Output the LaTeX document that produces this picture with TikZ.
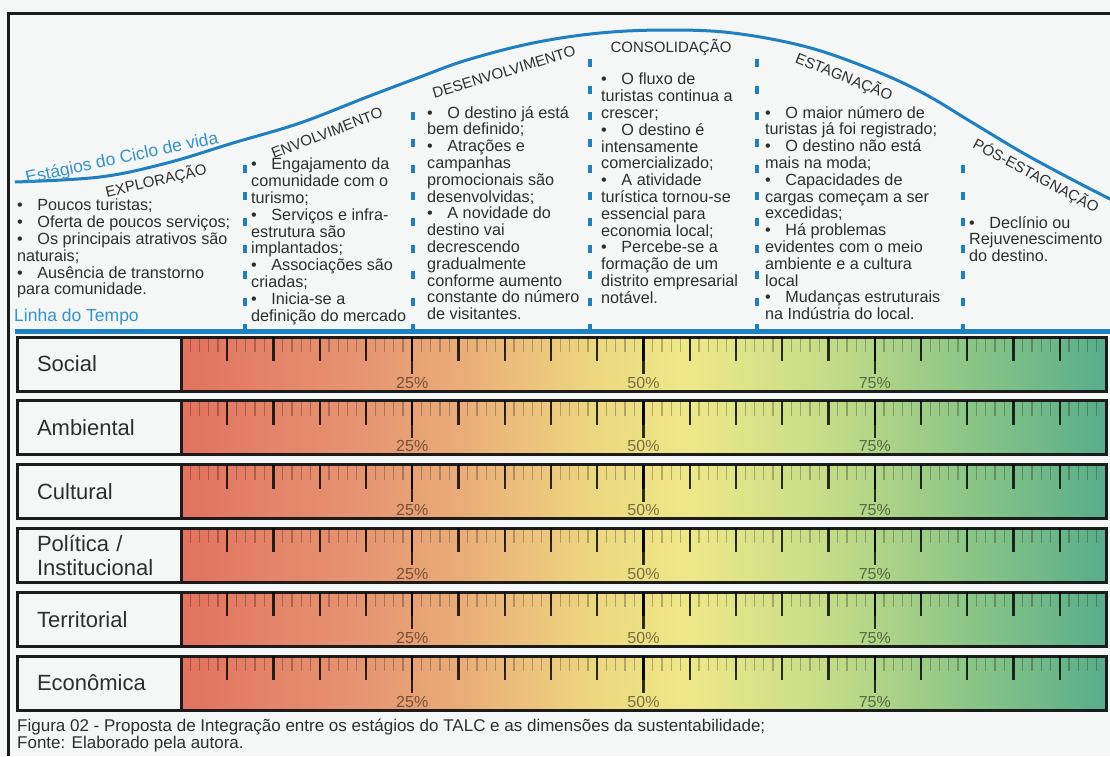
\documentclass[tikz,border=0pt]{standalone}
\usepackage{fontspec}
\setmainfont{Liberation Sans}
\usetikzlibrary{positioning}

\definecolor{paper}{HTML}{F5F6F6}
\definecolor{inkgray}{HTML}{2E2E2E}
\definecolor{rowedge}{HTML}{1C1C1C}
\definecolor{talcblue}{HTML}{1E7FC3}
\definecolor{titleblue}{HTML}{3593CC}
\definecolor{tA}{HTML}{E2725F}
\definecolor{tB}{HTML}{E69672}
\definecolor{tC}{HTML}{EAAC78}
\definecolor{tD}{HTML}{EDD880}
\definecolor{tE}{HTML}{EEE888}
\definecolor{tF}{HTML}{C4DC88}
\definecolor{tG}{HTML}{8CC686}
\definecolor{tH}{HTML}{58AD8B}
\pgfdeclarehorizontalshading{talcgrad}{100bp}{color(0bp)=(tA); color(25bp)=(tA); color(35bp)=(tB); color(40bp)=(tC); color(47.5bp)=(tD); color(52.5bp)=(tE); color(60bp)=(tF); color(67.5bp)=(tG); color(75bp)=(tH); color(100bp)=(tH)}

\tikzstyle{frameline} = [draw=rowedge, line width=3pt]
\tikzstyle{lifecurve} = [draw=talcblue, line width=3pt]
\tikzstyle{timeline} = [draw=talcblue, line width=5pt]
\tikzstyle{stagesep} = [draw=talcblue, line width=4pt, dash pattern=on 8pt off 18.5pt]
\tikzstyle{bluetitle} = [text=titleblue, font=\fontsize{17.5}{18}\selectfont, inner sep=0pt]
\tikzstyle{stagehead} = [text=inkgray, font=\fontsize{15}{16}\selectfont, inner sep=0pt]
\tikzstyle{stagetext} = [text=inkgray, font=\fontsize{16.2}{16.8}\selectfont, align=left, anchor=north west, inner sep=0pt]
\tikzstyle{dimlabel} = [rectangle, draw=rowedge, line width=3pt, fill=paper, minimum width=164pt, minimum height=54pt, text width=124pt, inner xsep=20pt, inner ysep=0pt, align=left, outer sep=0pt, text=inkgray, font=\fontsize{22}{24}\selectfont]
\tikzstyle{dimbar} = [rectangle, draw=rowedge, line width=3pt, shade, shading=talcgrad, minimum width=925pt, minimum height=54pt, outer sep=0pt]
\tikzstyle{minortick} = [draw=black, draw opacity=0.25, line width=1.4pt]
\tikzstyle{majortick} = [draw=black, draw opacity=0.8, line width=2.3pt]
\tikzstyle{pctlabel} = [text=black, text opacity=0.5, font=\fontsize{16}{17}\selectfont, inner sep=0pt, anchor=base]
\tikzstyle{caption} = [text=inkgray, font=\fontsize{17}{17}\selectfont, align=left, anchor=north west, inner sep=0pt]

\newcommand{\stagebullet}{\textbullet\hspace{0.9em}}

\begin{document}
\begin{tikzpicture}[x=1pt, y=-1pt]
	\useasboundingbox (0,0) rectangle (1110,756);
	\fill[paper] (0,0) rectangle (1110,756);
	\draw[frameline] (8,756) -- (8,13) -- (1110,13);

	% curva do ciclo de vida
	\draw[lifecurve] plot[smooth, tension=0.6] coordinates {(15,182) (100,177) (167,163) (233,143) (300,123) (367,97) (420,77) (467,60) (533,43) (600,33) (667,30) (733,33) (807,47) (873,70) (923,93) (973,123) (1023,153) (1073,180) (1112,200)};
	\node (lifeTitle) [bluetitle, rotate=12] at (122,159) {Estágios do Ciclo de vida};

	% linha do tempo e separadores
	\coordinate (timeStart) at (15,331);
	\coordinate (timeEnd) at (1110,331);
	\draw[timeline] (timeStart) -- (timeEnd);
	\node (timeTitle) [bluetitle, anchor=west] at (14,317) {Linha do Tempo};
	\coordinate (sepEnvBot) at (245,332);   \coordinate (sepEnvTop) at (245,160);
	\coordinate (sepDesBot) at (413,332);   \coordinate (sepDesTop) at (413,96);
	\coordinate (sepConBot) at (590,332);   \coordinate (sepConTop) at (590,42);
	\coordinate (sepEstBot) at (757,332);   \coordinate (sepEstTop) at (757,42);
	\coordinate (sepPosBot) at (963,332);   \coordinate (sepPosTop) at (963,150);
	\draw[stagesep] (sepEnvBot) -- (sepEnvTop);
	\draw[stagesep] (sepDesBot) -- (sepDesTop);
	\draw[stagesep] (sepConBot) -- (sepConTop);
	\draw[stagesep] (sepEstBot) -- (sepEstTop);
	\draw[stagesep] (sepPosBot) -- (sepPosTop);

	% estagios
	\node (hdExplor) [stagehead, rotate=13] at (156,181) {EXPLORAÇÃO};
	\node (hdEnvolv) [stagehead, rotate=21] at (327,133) {ENVOLVIMENTO};
	\node (hdDesenv) [stagehead, rotate=17] at (504,72) {DESENVOLVIMENTO};
	\node (hdConsol) [stagehead] at (671,47) {CONSOLIDAÇÃO};
	\node (hdEstag) [stagehead, rotate=-22] at (844,77) {ESTAGNAÇÃO};
	\node (hdPosEst) [stagehead, rotate=-28] at (1036,176) {PÓS-ESTAGNAÇÃO};

	\node (txtExplor) [stagetext] at (17,199) {\stagebullet Poucos turistas;\\ \stagebullet Oferta de poucos serviços;\\ \stagebullet Os principais atrativos são\\ naturais;\\ \stagebullet Ausência de transtorno\\ para comunidade.};
	\node (txtEnvolv) [stagetext] at (251,158) {\stagebullet Engajamento da\\ comunidade com o\\ turismo;\\ \stagebullet Serviços e infra-\\ estrutura são\\ implantados;\\ \stagebullet Associações são\\ criadas;\\ \stagebullet Inicia-se a\\ definição do mercado};
	\node (txtDesenv) [stagetext] at (427,106) {\stagebullet O destino já está\\ bem definido;\\ \stagebullet Atrações e\\ campanhas\\ promocionais são\\ desenvolvidas;\\ \stagebullet A novidade do\\ destino vai\\ decrescendo\\ gradualmente\\ conforme aumento\\ constante do número\\ de visitantes.};
	\node (txtConsol) [stagetext] at (601,73) {\stagebullet O fluxo de\\ turistas continua a\\ crescer;\\ \stagebullet O destino é\\ intensamente\\ comercializado;\\ \stagebullet A atividade\\ turística tornou-se\\ essencial para\\ economia local;\\ \stagebullet Percebe-se a\\ formação de um\\ distrito empresarial\\ notável.};
	\node (txtEstag) [stagetext] at (765,106) {\stagebullet O maior número de\\ turistas já foi registrado;\\ \stagebullet O destino não está\\ mais na moda;\\ \stagebullet Capacidades de\\ cargas começam a ser\\ excedidas;\\ \stagebullet Há problemas\\ evidentes com o meio\\ ambiente e a cultura\\ local\\ \stagebullet Mudanças estruturais\\ na Indústria do local.};
	\node (txtPosEst) [stagetext] at (969,216) {\stagebullet Declínio ou\\ Rejuvenescimento\\ do destino.};

	% dimensoes da sustentabilidade
	\node (lblSocial) [dimlabel, anchor=north west] at (17,337) {Social};
	\node (lblAmbiental) [dimlabel, below=9.8pt of lblSocial] {Ambiental};
	\node (lblCultural) [dimlabel, below=9.8pt of lblAmbiental] {Cultural};
	\node (lblPolitica) [dimlabel, below=9.8pt of lblCultural] {Política /\\Institucional};
	\node (lblTerritorial) [dimlabel, below=9.8pt of lblPolitica] {Territorial};
	\node (lblEconomica) [dimlabel, below=9.8pt of lblTerritorial] {Econômica};

	\node (barSocial) [dimbar, right=0pt of lblSocial] {};
	\node (barAmbiental) [dimbar, right=0pt of lblAmbiental] {};
	\node (barCultural) [dimbar, right=0pt of lblCultural] {};
	\node (barPolitica) [dimbar, right=0pt of lblPolitica] {};
	\node (barTerritorial) [dimbar, right=0pt of lblTerritorial] {};
	\node (barEconomica) [dimbar, right=0pt of lblEconomica] {};

	\foreach \b in {barSocial,barAmbiental,barCultural,barPolitica,barTerritorial,barEconomica}{
		\foreach \p in {1,...,99}
			\draw[minortick] ([xshift=\p*9.25pt]\b.north west) -- ++(0,15);
		\foreach \p in {5,10,...,95}
			\draw[majortick] ([xshift=\p*9.25pt]\b.north west) -- ++(0,24);
		\foreach \p in {25,50,75}{
			\draw[majortick] ([xshift=\p*9.25pt]\b.north west) -- ++(0,37);
			\node[pctlabel] at ([xshift=\p*9.25pt, yshift=3pt]\b.south west) {\p\%};
		}
	}

	\node (figCaption) [caption] at (17,719) {Figura 02 - Proposta de Integração entre os estágios do TALC e as dimensões da sustentabilidade;\\ Fonte: Elaborado pela autora.};
\end{tikzpicture}
\end{document}
